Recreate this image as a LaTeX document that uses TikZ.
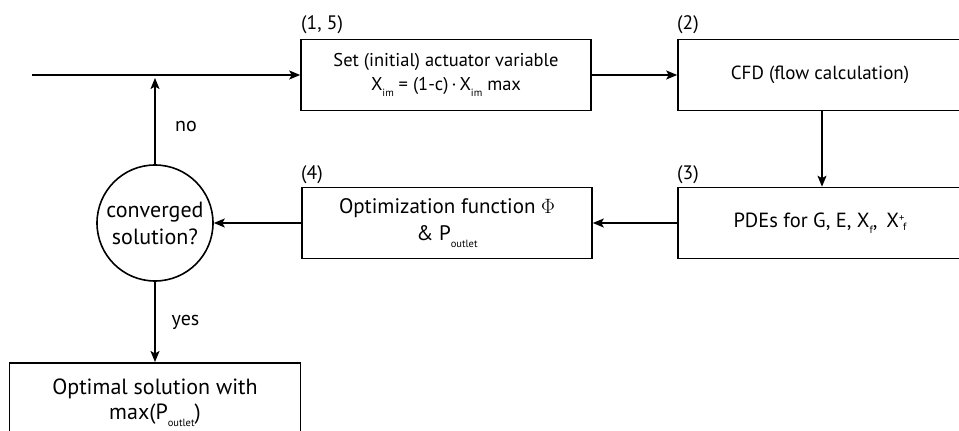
\documentclass[tikz,border=0pt]{standalone}
\usepackage{fontspec}
\setmainfont{PT Sans}
\usetikzlibrary{arrows.meta}
% small lowered subscript and stacked super/subscript pair
\newcommand{\lowsub}[1]{\raisebox{-0.6ex}{\fontsize{10.5}{10.5}\selectfont #1}}
\newcommand{\supsub}[2]{\mbox{\fontsize{10.5}{10.5}\selectfont\raisebox{1.0ex}{#1}\kern-0.12em\raisebox{-0.6ex}{#2}}}
\begin{document}
\begin{tikzpicture}[x=1pt,y=-1pt,
  every node/.style={font=\fontsize{20}{24}\selectfont},
  procbox/.style={draw, line width=1.6pt, align=center, inner sep=0pt},
  decision/.style={draw, circle, line width=1.6pt, minimum size=116pt, inner sep=0pt, align=center},
  flow/.style={line width=1.6pt, -{Stealth[length=11pt,width=9pt,inset=2.5pt]}},
  tag/.style={anchor=base west, inner sep=0pt, font=\fontsize{19.5}{24}\selectfont}]
\useasboundingbox (0,0) rectangle (959,431);
\clip (0,0) rectangle (959,431);

% process steps
\node[procbox, minimum width=290pt, minimum height=71pt, font=\fontsize{18.5}{24}\selectfont] (setvar) at (446,75)
  {Set (initial) actuator variable\\X\lowsub{im} = (1-c)\,·\,X\lowsub{im} max};
\node[procbox, minimum width=284pt, minimum height=71pt, font=\fontsize{19}{24}\selectfont] (cfd) at (820,75)
  {CFD (flow calculation)};
\node[procbox, minimum width=284pt, minimum height=71pt, font=\fontsize{20.5}{24}\selectfont] (pde) at (820,223)
  {PDEs for G, E, X\lowsub{f},\, X\supsub{+}{f}};
\node[procbox, minimum width=290pt, minimum height=71pt, font=\fontsize{21}{27}\selectfont] (opt) at (447,223)
  {Optimization function $\Phi$\\\& P\lowsub{outlet}};
\node[decision, font=\fontsize{22}{27}\selectfont] (conv) at (155,223) {converged\\solution?};
\node[procbox, anchor=north, minimum width=291pt, minimum height=80pt, inner ysep=4pt, font=\fontsize{22}{25}\selectfont] (result) at (155,362)
  {Optimal solution with\\max(P\lowsub{outlet})};

% step numbers
\node[tag] (t15) at (301,30) {(1, 5)};
\node[tag] (t2) at (677,30) {(2)};
\node[tag] (t3) at (677,179) {(3)};
\node[tag] (t4) at (301,179) {(4)};

% connectors
\coordinate (entry) at (32,75);
\coordinate (merge) at (155,78);
\draw[flow] (entry) -- (setvar.west |- entry);
\draw[flow] (setvar) -- (cfd);
\draw[flow] (cfd.south -| 822,0) -- (pde.north -| 822,0);
\draw[flow] (pde) -- (opt);
\draw[flow] (opt) -- (conv);
\draw[flow] (conv) -- (result);
\draw[flow] (conv) -- (merge);
\node[anchor=base, inner sep=0pt] (lno) at (186,131) {no};
\node[anchor=base, inner sep=0pt] (lyes) at (185.5,325) {yes};
\end{tikzpicture}
\end{document}
